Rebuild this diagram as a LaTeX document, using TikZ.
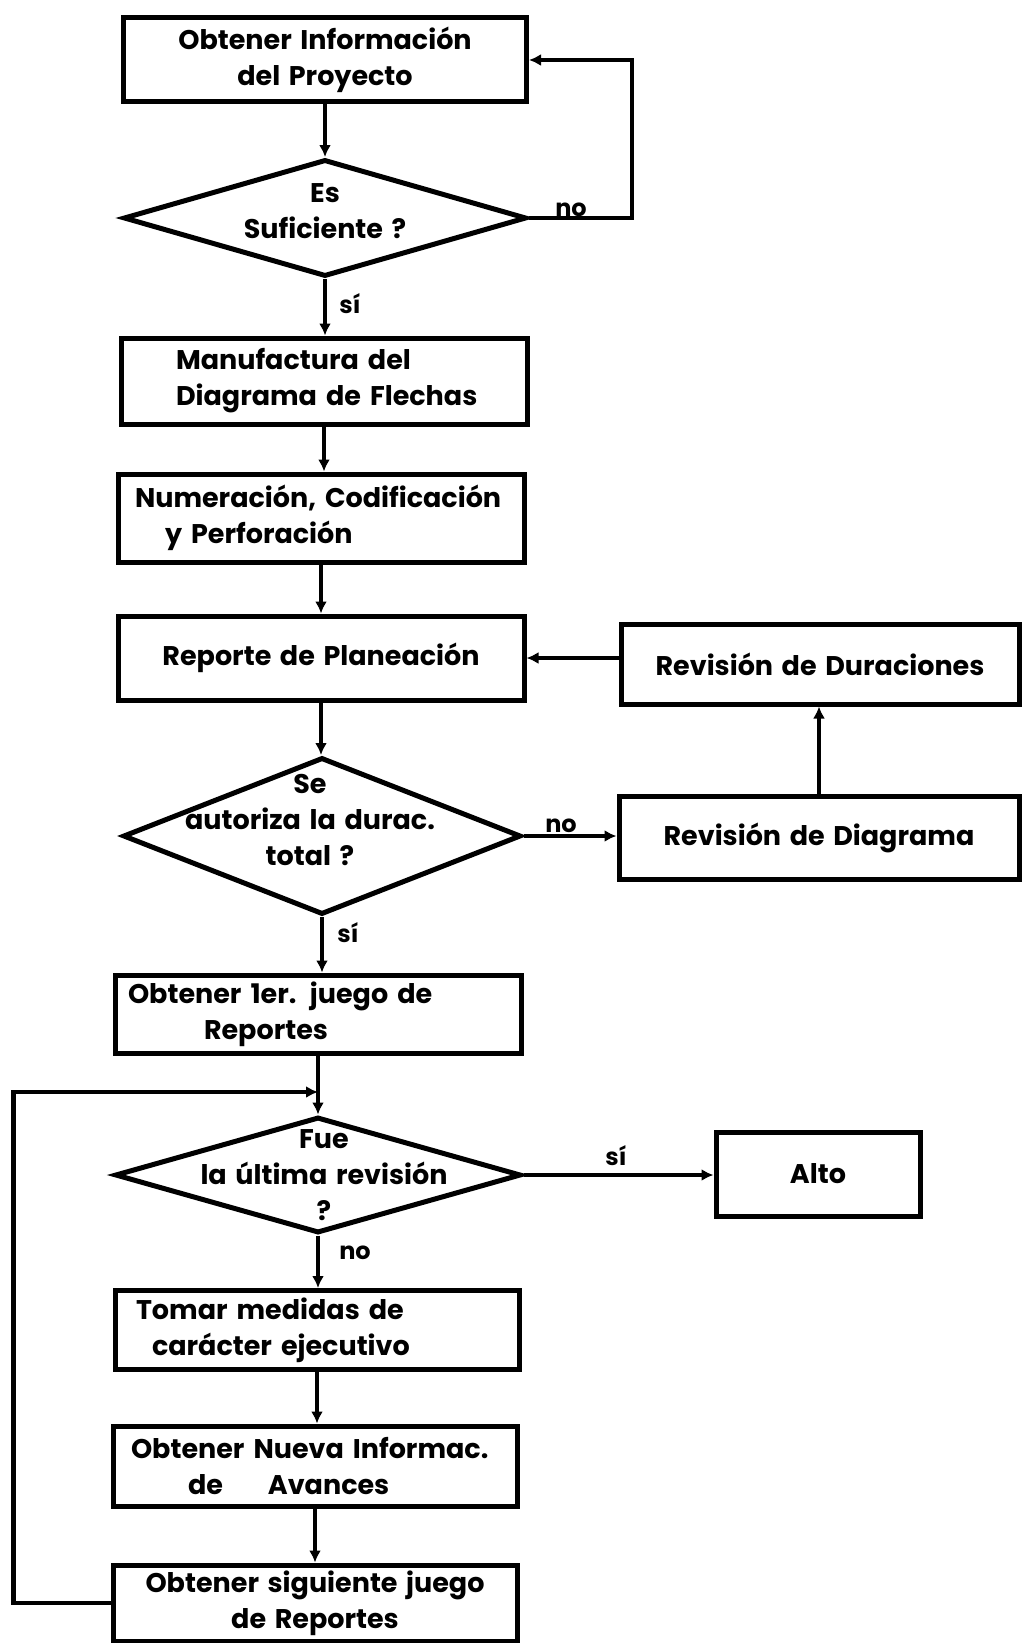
\documentclass[tikz,border=0pt]{standalone}
\usepackage{fontspec}
\setmainfont{Poppins}[WordSpace=1.5]
\usetikzlibrary{shapes.geometric,arrows.meta,calc}
\begin{document}
\begin{tikzpicture}[x=1pt,y=-1pt,
  every node/.style={font=\fontsize{27}{36}\selectfont\bfseries},
  box/.style={draw, line width=5pt, inner sep=0pt, align=center},
  lbox/.style={draw, line width=5pt, inner ysep=0pt, align=left},
  dia/.style={draw, diamond, line width=5pt, inner sep=0pt},
  ln/.style={line width=4.5pt},
  arr/.style={line width=4.5pt, -{Latex[length=12pt,width=12pt]}},
  lab/.style={font=\fontsize{24}{28}\selectfont\bfseries, inner sep=0pt}]
\useasboundingbox (0,0) rectangle (1023,1643);

\node[box, minimum width=403pt, minimum height=84pt] (b1) at (325,60) {Obtener Información\\del Proyecto};
\node[dia, minimum width=403pt, minimum height=117pt,
  label={[align=center, yshift=7pt]center:Es\\Suficiente ?}] (d1) at (325,218) {};
\node[lbox, text width=296pt, inner xsep=55pt, minimum height=86pt] (b2) at (324,381) {\mbox{Manufactura del}\\\mbox{Diagrama de Flechas}};
\node[lbox, text width=372pt, inner xsep=17pt, minimum height=88pt] (b3) at (321,518) {\mbox{Numeración, Codificación}\\\hspace*{30pt}y Perforación};
\node[box, minimum width=406pt, minimum height=84pt] (b4) at (321,658) {Reporte de Planeación};
\node[box, minimum width=398pt, minimum height=80pt] (b5) at (820,664) {Revisión de Duraciones};
\node[box, minimum width=400pt, minimum height=83pt] (b6) at (819,838) {Revisión de Diagrama};
\node[dia, minimum width=398pt, minimum height=157pt,
  label={[align=center, yshift=16pt, xshift=-12pt]center:Se\\autoriza la durac.\\total ?}] (d2) at (322,836) {};
\node[lbox, text width=380pt, inner xsep=13pt, minimum height=78pt] (b7) at (318,1014) {Obtener 1er. juego de\\\hspace*{76pt}Reportes};
\coordinate (j) at (318,1092);
\node[dia, minimum width=406pt, minimum height=116pt,
  label={[align=center, xshift=6pt]center:Fue\\la última revisión\\?}] (d3) at (318,1175) {};
\node[box, minimum width=204pt, minimum height=84pt] (alto) at (818,1174) {Alto};
\node[lbox, text width=362pt, inner xsep=21pt, minimum height=79pt] (b8) at (317,1330) {Tomar medidas de\\\hspace*{16pt}carácter ejecutivo};
\node[lbox, text width=368pt, inner xsep=18pt, minimum height=80pt] (b9) at (315,1466) {\mbox{Obtener Nueva Informac.}\\\hspace*{57pt}de\hspace*{45pt}Avances};
\node[box, minimum width=404pt, minimum height=76pt] (b10) at (315,1603) {Obtener siguiente juego\\de Reportes};

% connectors
\draw[arr] (b1.south) -- (b1.south |- d1.north);
\draw[arr] (d1.east) -- ++(103,0) |- (b1.east);
\node[lab] (no1) at (571,210) {no};
\draw[arr] (d1.south) -- (d1.south |- b2.north);
\node[lab] (si1) at (350,304) {sí};
\draw[arr] (b2.south) -- (b2.south |- b3.north);
\draw[arr] (b3.south) -- (b3.south |- b4.north);
\draw[arr] (b5.west |- b4.east) -- (b4.east);
\draw[arr] (b4.south) -- (b4.south |- d2.north);
\draw[arr] (d2.east) -- (d2.east -| b6.west);
\node[lab] (no2) at (561,826) {no};
\draw[arr] (b6.north) -- (b6.north |- b5.south);
\draw[arr] (d2.south) -- (d2.south |- b7.north);
\node[lab] (si2) at (348,933) {sí};
\draw[ln] (b7.south) -- (j);
\draw[arr] (j) -- (d3.north);
\draw[arr] (d3.east) -- (d3.east -| alto.west);
\node[lab] (si3) at (616,1156) {sí};
\draw[arr] (d3.south) -- (d3.south |- b8.north);
\node[lab] (no3) at (355,1253) {no};
\draw[arr] (b8.south) -- (b8.south |- b9.north);
\draw[arr] (b9.south) -- (b9.south |- b10.north);
\draw[arr] (b10.west) -- ++(-97,0) |- (j);
\end{tikzpicture}
\end{document}
